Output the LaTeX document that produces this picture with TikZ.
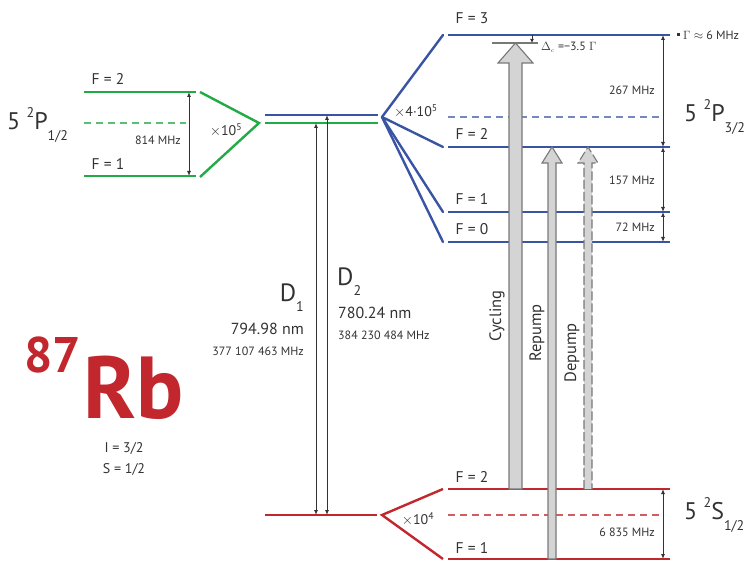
\documentclass[tikz,border=0pt]{standalone}
\usepackage{fontspec}
\setmainfont{PT Sans}
\usetikzlibrary{arrows.meta}
\definecolor{lvgreen}{RGB}{34,170,70}
\definecolor{lvblue}{RGB}{58,84,164}
\definecolor{lvred}{RGB}{193,39,45}
\definecolor{beamfill}{RGB}{212,212,212}
\definecolor{beamedge}{RGB}{120,120,120}
\definecolor{ink}{RGB}{50,50,50}
\tikzset{
  level/.style={line width=2.4pt},
  sublevel/.style={line width=1.1pt, dash pattern=on 7pt off 5pt},
  gap/.style={draw=ink, line width=0.9pt, {Latex[length=5pt,width=4pt]}-{Latex[length=5pt,width=4pt]}},
  beam/.style={fill=beamfill, draw=beamedge, line width=1.1pt, line join=miter},
  flabel/.style={font=\fontsize{15.5}{15.5}\selectfont, text=ink, inner sep=0pt},
  small/.style={font=\fontsize{12}{12}\selectfont, text=ink, inner sep=0pt},
  term/.style={font=\fontsize{24}{24}\selectfont, text=ink, inner sep=0pt},
  factor/.style={font=\fontsize{14}{14}\selectfont, text=ink, inner sep=0pt},
}
\newcommand\termsub[1]{\raisebox{-0.45em}{\fontsize{14}{14}\selectfont #1}}
\newcommand\termsup[1]{\raisebox{0.5em}{\fontsize{14}{14}\selectfont #1}}
\newcommand\bigtimes{\raisebox{0.05em}{$\times$}}
\begin{document}
\begin{tikzpicture}[x=1pt,y=-1pt]
\useasboundingbox (0,0) rectangle (747,561);

% ---------- 5 2P1/2 hyperfine levels (green) ----------
\coordinate (p12a) at (84,92);  \coordinate (p12b) at (196,92);
\coordinate (p11a) at (84,176); \coordinate (p11b) at (196,176);
\draw[level, lvgreen] (p12a) -- (p12b);
\draw[level, lvgreen] (p11a) -- (p11b);
\draw[sublevel, lvgreen!75] (84,123) -- (186,123);
\draw[level, lvgreen] (200,92) -- (259,123) -- (200,177);
\node[flabel] (lf2a) at (108,79) {F = 2};
\node[flabel] (lf1a) at (108,164) {F = 1};
\coordinate (gA) at (189,92); \coordinate (gB) at (189,176);
\draw[gap] (gA) -- (gB);
\node[small, anchor=east] (s814) at (181,140) {814 MHz};
\node[factor] (x1e5) at (226,130) {\bigtimes10\textsuperscript{5}};
\node[term, anchor=west] (tP12) at (7,125) {5 \termsup{2}P\termsub{1/2}};

% ---------- fine-structure levels (centre) ----------
\coordinate (mb1) at (265,115); \coordinate (mb2) at (378,115);
\coordinate (mg1) at (265,123); \coordinate (mg2) at (378,123);
\coordinate (mr1) at (265,515); \coordinate (mr2) at (377,515);
\draw[level, lvblue] (mb1) -- (mb2);
\draw[level, lvgreen] (mg1) -- (mg2);
\draw[level, lvred] (mr1) -- (mr2);

% D lines
\coordinate (d1t) at (316,123); \coordinate (d1b) at (316,515);
\coordinate (d2t) at (327,115); \coordinate (d2b) at (327,515);
\draw[gap] (d1t) -- (d1b);
\draw[gap] (d2t) -- (d2b);
\node[inner sep=0pt, anchor=east, text=ink, font=\fontsize{25}{25}\selectfont] (D1) at (304,298) {D\raisebox{-0.4em}{\fontsize{14}{14}\selectfont 1}};
\node[inner sep=0pt, anchor=east, text=ink, font=\fontsize{16}{16}\selectfont] (D1nm) at (304,329) {794.98 nm};
\node[small, anchor=east] (D1f) at (304,351) {377 107 463 MHz};
\node[inner sep=0pt, anchor=west, text=ink, font=\fontsize{25}{25}\selectfont] (D2) at (337,282) {D\raisebox{-0.4em}{\fontsize{14}{14}\selectfont 2}};
\node[inner sep=0pt, anchor=west, text=ink, font=\fontsize{16}{16}\selectfont] (D2nm) at (338,313) {780.24 nm};
\node[small, anchor=west] (D2f) at (338,335) {384 230 484 MHz};

% ---------- 5 2P3/2 hyperfine levels (blue) ----------
\coordinate (fanP) at (382,117);
\coordinate (e3a) at (448,35);  \coordinate (e3b) at (670,35);
\coordinate (e2a) at (448,147); \coordinate (e2b) at (670,147);
\coordinate (e1a) at (448,212); \coordinate (e1b) at (670,212);
\coordinate (e0a) at (448,242); \coordinate (e0b) at (670,242);
\foreach \t/\y in {e3/35, e2/147, e1/212, e0/242} {
  \draw[level, lvblue] (\t a) -- (\t b);
  \draw[level, lvblue, line cap=round] (fanP) -- (443,\y);
}
\draw[sublevel, lvblue!70] (448,117) -- (663,117);
\node[flabel] (lf3) at (472,18) {F = 3};
\node[flabel] (lf2b) at (472,134) {F = 2};
\node[flabel] (lf1b) at (472,199) {F = 1};
\node[flabel] (lf0b) at (472,229) {F = 0};
\node[factor] (x4e5) at (416,111) {\bigtimes4·10\textsuperscript{5}};
\node[term, anchor=west] (tP32) at (684,117) {5 \termsup{2}P\termsub{3/2}};

\coordinate (r3) at (663,35);  \coordinate (r2) at (663,147);
\coordinate (r1) at (663,212); \coordinate (r0) at (663,242);
\draw[gap] (r3) -- (r2);
\draw[gap] (r2) -- (r1);
\draw[gap] (r1) -- (r0);
\node[small, anchor=east] (s267) at (655,90) {267 MHz};
\node[small, anchor=east] (s157) at (655,180) {157 MHz};
\node[small, anchor=east] (s72) at (655,227) {72 MHz};
\fill[ink] (676.5,33.5) rectangle (679.5,36.5);
\node[small, anchor=west] (linew) at (683,35) {$\Gamma$ $\approx$ 6 MHz};

% ---------- 5 2S1/2 hyperfine levels (red) ----------
\coordinate (fanS) at (382,515);
\coordinate (g2a) at (448,489); \coordinate (g2b) at (670,489);
\coordinate (g1a) at (448,559); \coordinate (g1b) at (670,559);
\draw[level, lvred] (g2a) -- (g2b);
\draw[level, lvred] (g1a) -- (g1b);
\draw[level, lvred] (443,489) -- (fanS) -- (443,559);
\draw[sublevel, lvred!75] (448,515) -- (663,515);
\node[flabel] (lg2) at (472,477) {F = 2};
\node[flabel] (lg1) at (472,548) {F = 1};
\node[factor] (x1e4) at (418,519) {\bigtimes10\textsuperscript{4}};
\coordinate (rg2) at (663,489); \coordinate (rg1) at (663,559);
\draw[gap] (rg2) -- (rg1);
\node[small, anchor=east] (s6835) at (655,532) {6 835 MHz};
\node[term, anchor=west] (tS12) at (684,515) {5 \termsup{2}S\termsub{1/2}};

% ---------- laser beams ----------
% cycling: F=2 -> F'=3, red detuned
\draw[beam] (509,489) -- (509,63) -- (498,63) -- (515.5,43) -- (533,63) -- (522,63) -- (522,489) -- cycle;
\draw[beamedge, line width=1.5pt] (492,43) -- (538,43);
\coordinate (detT) at (532,35); \coordinate (detB) at (532,43);
\draw[draw=ink, line width=0.8pt, -{Latex[length=4pt,width=4pt]}] (detT) -- (detB);
\node[small, anchor=west] (detlab) at (541,47) {$\Delta_{\scriptscriptstyle c}$ =−3.5 $\Gamma$};
% repump: F=1 -> F'=2
\draw[beam] (548,559) -- (548,163) -- (542,163) -- (552,147) -- (562,163) -- (556,163) -- (556,559) -- cycle;
% depump: F=2 -> F'=2
\draw[beam, dash pattern=on 9pt off 3pt] (584,489) -- (584,163) -- (578,163) -- (588,147) -- (598,163) -- (592,163) -- (592,489);
\node[flabel, font=\fontsize{16.5}{16.5}\selectfont, rotate=90] (lcyc) at (497,316) {Cycling};
\node[flabel, font=\fontsize{16.5}{16.5}\selectfont, rotate=90] (lrep) at (537,333) {Repump};
\node[flabel, font=\fontsize{16.5}{16.5}\selectfont, rotate=90] (ldep) at (572,353) {Depump};

% ---------- isotope label ----------
\node[inner sep=0pt, anchor=base west, text=lvred, font=\fontsize{88}{88}\selectfont\bfseries] (Rb) at (83,418) {Rb};
\node[inner sep=0pt, anchor=base east, text=lvred, font=\fontsize{50}{50}\selectfont\bfseries] (mass) at (81,372) {87};
\node[inner sep=0pt, anchor=base, text=ink, font=\fontsize{14}{14}\selectfont] (spinI) at (124,452) {I = 3/2};
\node[inner sep=0pt, anchor=base, text=ink, font=\fontsize{14}{14}\selectfont] (spinS) at (124,473) {S = 1/2};
\end{tikzpicture}
\end{document}
